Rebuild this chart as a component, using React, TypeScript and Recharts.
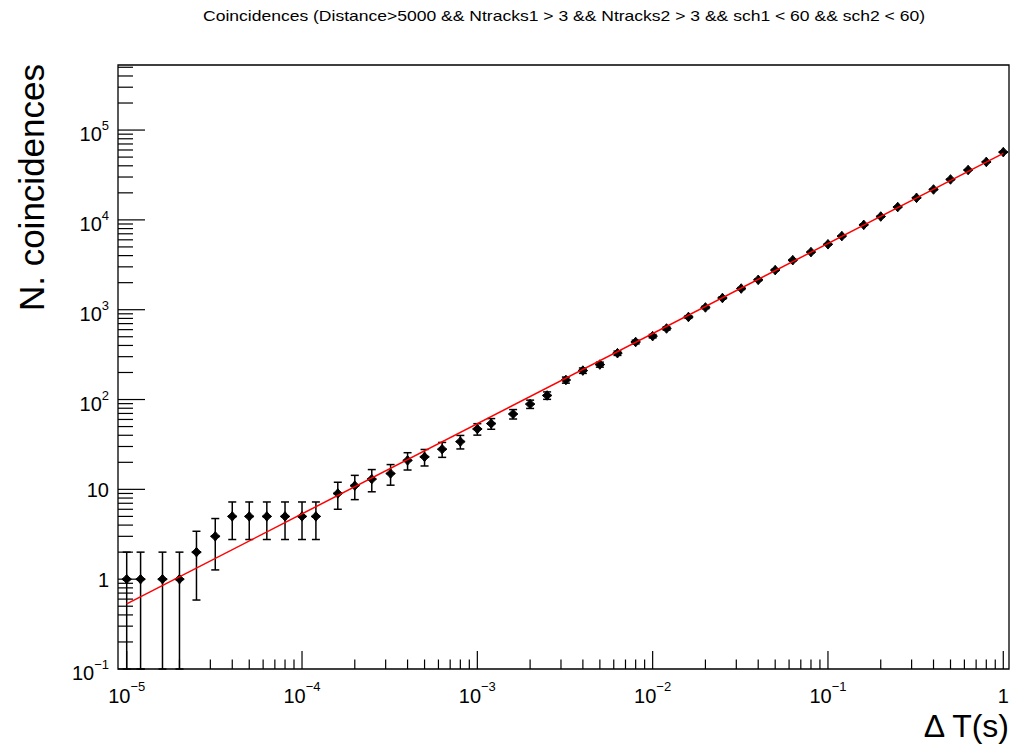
import React from 'react';
import { ComposedChart, Scatter, XAxis, YAxis, ErrorBar, ReferenceArea } from 'recharts';

// Delta T (s) of each point
const deltaT = [
  1e-5, 1.2e-5, 1.6e-5, 2e-5, 2.5e-5, 3.2e-5, 4e-5, 5e-5, 6.3e-5, 8e-5,
  1e-4, 1.2e-4, 1.6e-4, 2e-4, 2.5e-4, 3.2e-4, 4e-4, 5e-4, 6.3e-4, 8e-4,
  1e-3, 1.2e-3, 1.6e-3, 2e-3, 2.5e-3, 3.2e-3, 4e-3, 5e-3, 6.3e-3, 8e-3,
  1e-2, 1.2e-2, 1.6e-2, 2e-2, 2.5e-2, 3.2e-2, 4e-2, 5e-2, 6.3e-2, 8e-2,
  0.1, 0.12, 0.16, 0.2, 0.25, 0.32, 0.4, 0.5, 0.63, 0.8,
  1,
];

// N. coincidences
const counts = [
  1, 1, 1, 1, 2, 3, 5, 5, 5, 5,
  5, 5, 9, 11, 13, 15, 21, 23, 28, 34,
  47, 54, 69, 89, 111, 165, 210, 245, 328, 437,
  508, 618, 830, 1060, 1350, 1720, 2150, 2760, 3560, 4380,
  5350, 6600, 8800, 10900, 13900, 17600, 21800, 28200, 35900, 44200,
  56800,
];

// Fit line end points
const fitDeltaT = [1e-5, 1];
const fitCounts = [0.53, 55000];

const xMajorTicks = [1e-5, 1e-4, 1e-3, 1e-2, 1e-1, 1];
const xTickLabels: [string, string][] = [
  ['10', '\u22125'], ['10', '\u22124'], ['10', '\u22123'], ['10', '\u22122'], ['10', '\u22121'], ['1', ''],
];
const yMajorTicks = [0.1, 1, 10, 100, 1000, 10000, 100000];
const yTickLabels: [string, string][] = [
  ['10', '\u22121'], ['1', ''], ['10', ''], ['10', '2'], ['10', '3'], ['10', '4'], ['10', '5'],
];

const xDomain: [number, number] = [8.92e-6, 1.078];
const yDomain: [number, number] = [0.1, 5.3e5];

const titleText = 'Coincidences (Distance>5000 && Ntracks1 > 3 && Ntracks2 > 3 && sch1 < 60 && sch2 < 60)';
const xTitle = '\u0394 T(s)';
const yTitle = 'N. coincidences';

const FONT = '"Liberation Sans", Arial, Helvetica, sans-serif';
const minorMultipliers = [2, 3, 4, 5, 6, 7, 8, 9];

function withMinor(majors: number[], lo: number, hi: number): number[] {
  const out: number[] = [];
  majors.forEach((m) => {
    if (m >= lo && m <= hi) out.push(m);
    minorMultipliers.forEach((k) => {
      const v = m * k;
      if (v >= lo && v <= hi) out.push(v);
    });
  });
  return out;
}

function findMajor(majors: number[], v: number): number {
  return majors.findIndex((m) => Math.abs(m - v) / m < 1e-9);
}

const xTicks = withMinor(xMajorTicks, 1e-5, xDomain[1]);
const yTicks = withMinor(yMajorTicks, yDomain[0], yDomain[1]);

const points = deltaT.map((x, i) => {
  const y = counts[i];
  const e = Math.sqrt(y);
  const lo = Math.min(e, y - yDomain[0]);
  return { x, y, err: [lo, e] };
});

const fitData = fitDeltaT.map((x, i) => ({ x, y: fitCounts[i] }));

const XTick = (props: any) => {
  const { x, y, payload } = props;
  const idx = findMajor(xMajorTicks, payload.value);
  const len = idx >= 0 ? 18 : 9.5;
  return (
    <g>
      <line x1={x} x2={x} y1={y} y2={y - len} stroke="#000" strokeWidth={1.2} />
      {idx >= 0 && (
        <text x={x} y={y + 34} textAnchor="middle" fontSize={20} fontFamily={FONT} fill="#000">
          {xTickLabels[idx][0]}
          {xTickLabels[idx][1] ? (
            <tspan dy={-12} fontSize={13}>{xTickLabels[idx][1]}</tspan>
          ) : null}
        </text>
      )}
    </g>
  );
};

const YTick = (props: any) => {
  const { x, y, payload } = props;
  const idx = findMajor(yMajorTicks, payload.value);
  const len = idx >= 0 ? 27 : 15;
  const hasExp = idx >= 0 && yTickLabels[idx][1] !== '';
  return (
    <g>
      <line x1={x} x2={x + len} y1={y} y2={y} stroke="#000" strokeWidth={1.2} />
      {idx >= 0 && (
        <text x={x - 9} y={y + (hasExp ? 11 : 8)} textAnchor="end" fontSize={20} fontFamily={FONT} fill="#000">
          {yTickLabels[idx][0]}
          {hasExp ? <tspan dy={-11} fontSize={13}>{yTickLabels[idx][1]}</tspan> : null}
        </text>
      )}
    </g>
  );
};

const Marker = (props: any) => {
  const { cx, cy } = props;
  if (cx == null || cy == null) return <g />;
  const r = 4.8;
  const k = 0.45 * r;
  const d = `M${cx - r},${cy} L${cx - k},${cy - k} L${cx},${cy - r} L${cx + k},${cy - k} L${cx + r},${cy} L${cx + k},${cy + k} L${cx},${cy + r} L${cx - k},${cy + k} Z`;
  return <path d={d} fill="#000" stroke="#000" strokeWidth={1} />;
};

export default function App() {
  return (
    <div style={{ position: 'absolute', left: 0, top: 0, width: 1012, height: 747, background: '#fff' }}>
      <ComposedChart
        width={1012}
        height={747}
        margin={{ top: 65, right: 3, bottom: 8, left: 8 }}
      >
        <XAxis
          type="number"
          dataKey="x"
          scale="log"
          domain={xDomain}
          allowDataOverflow
          ticks={xTicks}
          interval={0}
          tick={XTick}
          tickLine={false}
          axisLine={false}
          tickSize={0}
          tickMargin={0}
          height={70}
        />
        <YAxis
          type="number"
          dataKey="y"
          scale="log"
          domain={yDomain}
          allowDataOverflow
          ticks={yTicks}
          interval={0}
          tick={YTick}
          tickLine={false}
          axisLine={false}
          tickSize={0}
          tickMargin={0}
          width={110}
        />
        <ReferenceArea
          x1={xDomain[0]}
          x2={xDomain[1]}
          y1={yDomain[0]}
          y2={yDomain[1]}
          fill="none"
          fillOpacity={0}
          stroke="#000"
          strokeWidth={1.3}
          ifOverflow="visible"
        />
        <Scatter data={points} shape={Marker} isAnimationActive={false}>
          <ErrorBar dataKey="err" direction="y" width={4} stroke="#000" strokeWidth={1.5} isAnimationActive={false} />
        </Scatter>
        <Scatter
          data={fitData}
          line={{ stroke: '#ff0000', strokeWidth: 1.5 }}
          shape={() => <g />}
          isAnimationActive={false}
        />
      </ComposedChart>
      <svg
        width={1012}
        height={747}
        style={{ position: 'absolute', left: 0, top: 0, pointerEvents: 'none' }}
      >
        <text x={564} y={21} textAnchor="middle" fontSize={15} fontFamily={FONT} fill="#000"
          textLength={722} lengthAdjust="spacingAndGlyphs">
          {titleText}
        </text>
        <text transform="translate(44,64) rotate(-90)" textAnchor="end" fontSize={35} fontFamily={FONT} fill="#000">
          {yTitle}
        </text>
        <text x={1009} y={737} textAnchor="end" fontSize={32} fontFamily={FONT} fill="#000">
          {xTitle}
        </text>
      </svg>
    </div>
  );
}
